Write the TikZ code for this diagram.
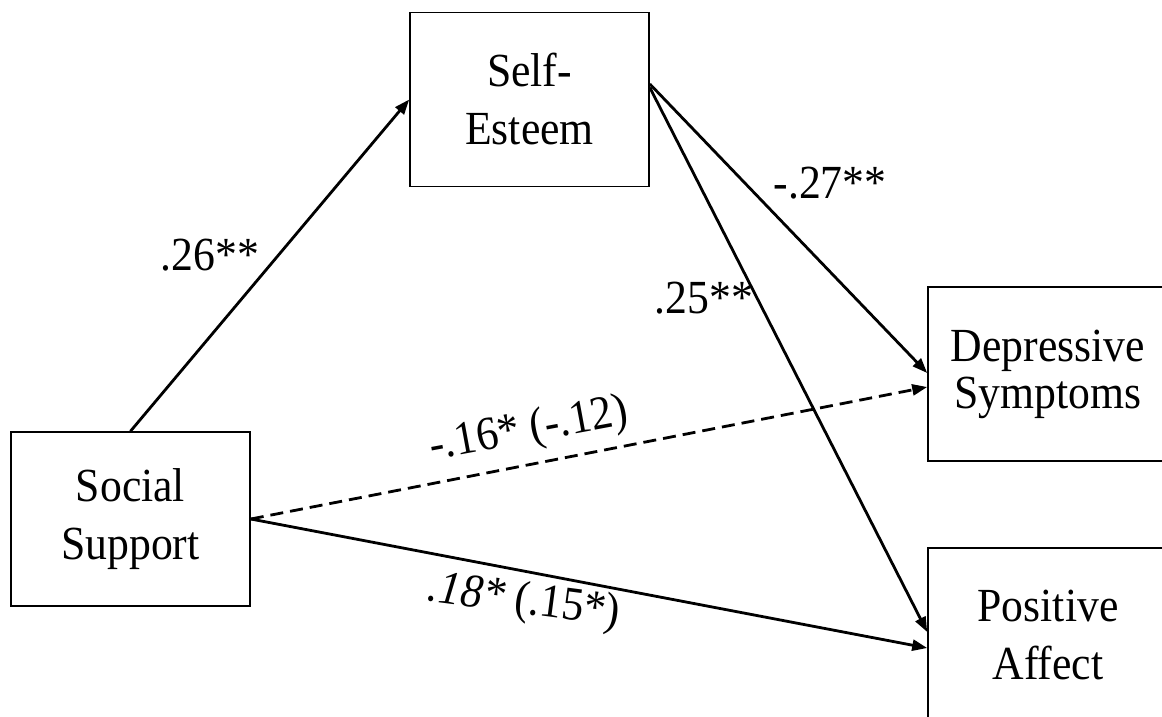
\documentclass[tikz,border=0pt]{standalone}
\usepackage{fontspec}
\setmainfont{Liberation Serif}[FakeStretch=0.92]
\usetikzlibrary{arrows.meta,calc}
\begin{document}
\begin{tikzpicture}[x=1pt,y=-1pt,
  box/.style={draw=black,line width=1.6pt,minimum width=239pt,minimum height=174pt,
    inner sep=0pt,align=center,font=\fontsize{47.5}{58}\selectfont},
  path/.style={line width=2.8pt,-{Triangle[length=15pt,width=11pt]}},
  dpath/.style={path,dash pattern=on 13pt off 7pt},
  lab/.style={inner sep=0pt,font=\fontsize{47.5}{52}\selectfont}]
\path[use as bounding box] (0,0) rectangle (1162,717);
\node[box] (se) at (529.5,99.5) {Self-\\Esteem};
\node[box] (ss) at (130.5,519) {Social\\Support};
\node[box,minimum width=240pt,font=\fontsize{47.5}{47}\selectfont] (dp) at (1048,374) {Depressive\\Symptoms};
\node[box,minimum width=240pt] (pa) at (1048,635) {Positive\\Affect};
\draw[path] (ss.north) -- (se.west);
\draw[path] ([yshift=15.5pt]se.east) -- ([yshift=1pt]dp.west);
\draw[path] ([yshift=12pt]se.east) -- ([yshift=3pt]pa.west);
\draw[dpath] (ss.east) -- ([yshift=-13pt]dp.west);
\draw[path] (ss.east) -- ([yshift=-13pt]pa.west);
\node[lab] (l1) at (210,255) {.26**};
\node[lab] (l2) at (830,183) {-.27**};
\node[lab] (l3) at (704,298) {.25**};
\node[lab,rotate=10.5] (l4) at (529,431) {-.16* (-.12)};
\node[lab,rotate=-7.5] (l5) at (524,602) {\textit{.18*} (.15*)};
\end{tikzpicture}
\end{document}
